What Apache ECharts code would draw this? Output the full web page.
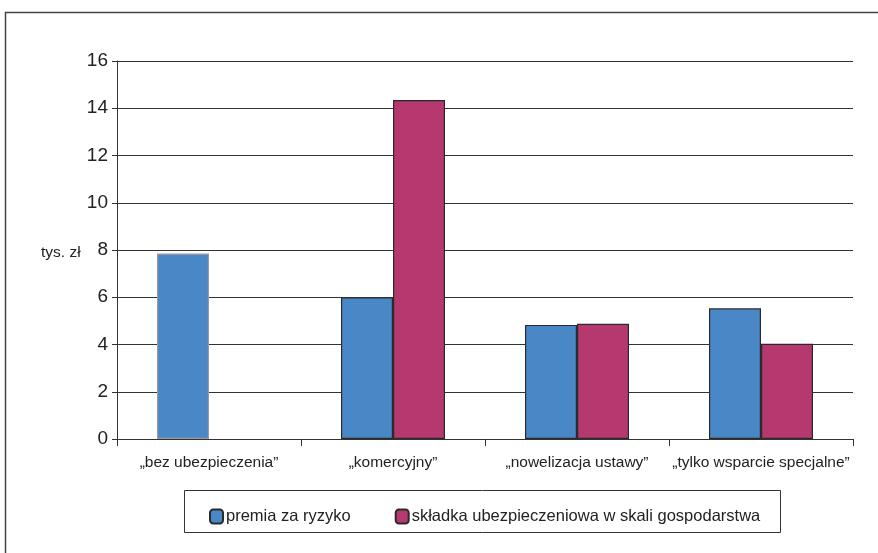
<!DOCTYPE html>
<html>
<head>
<meta charset="utf-8">
<script src="https://cdn.jsdelivr.net/npm/echarts@6/dist/echarts.min.js"></script>
<style>
  html, body { margin: 0; padding: 0; background: #fff; }
  #chart { width: 878px; height: 553px; }
</style>
</head>
<body>
<div id="chart"></div>
<script>
// Scenario categories along the x axis
const categories = ['„bez ubezpieczenia”', '„komercyjny”', '„nowelizacja ustawy”', '„tylko wsparcie specjalne”'];
// Values in thousands of złoty
const riskPremium = [7.85, 6.0, 4.83, 5.53];
const farmPremium = [null, 14.35, 4.88, 4.03];
const seriesNames = ['premia za ryzyko', 'składka ubezpieczeniowa w skali gospodarstwa'];
const yTicks = [0, 2, 4, 6, 8, 10, 12, 14, 16];
const unitLabel = 'tys. zł';

const FONT = '"Liberation Sans", Arial, sans-serif';
const BLUE = '#4a87c6';
const RED = '#b5386f';

const chart = echarts.init(document.getElementById('chart'), null, { renderer: 'canvas' });

const blueData = riskPremium.map((v, i) => i === 0
  ? { value: v, itemStyle: { borderColor: '#9a9a9a' } }
  : v);

chart.setOption({
  animation: false,
  grid: { left: 117, right: 25, top: 61, bottom: 114 },
  xAxis: {
    type: 'category',
    data: categories,
    axisLine: { lineStyle: { color: '#333', width: 1 } },
    axisTick: { show: true, interval: 0, length: 7, lineStyle: { color: '#333' } },
    axisLabel: { interval: 0, color: '#222', fontFamily: FONT, fontSize: 15.5, margin: 16 }
  },
  yAxis: {
    type: 'value',
    min: yTicks[0],
    max: yTicks[yTicks.length - 1],
    interval: 2,
    axisLine: { show: true, lineStyle: { color: '#333', width: 1 } },
    axisTick: { show: true, length: 5, lineStyle: { color: '#333' } },
    axisLabel: { color: '#222', fontFamily: FONT, fontSize: 19, margin: 9 },
    splitLine: { lineStyle: { color: '#333', width: 1 } }
  },
  legend: {
    left: 204,
    top: 503,
    itemGap: 44,
    itemWidth: 13,
    itemHeight: 14,
    icon: 'roundRect',
    textStyle: { color: '#222', fontFamily: FONT, fontSize: 16.5, padding: [0, 0, 0, -2] },
    data: seriesNames
  },
  graphic: [
    {
      type: 'rect',
      shape: { x: 5.5, y: 12.5, width: 900, height: 600 },
      style: { fill: 'none', stroke: '#444', lineWidth: 1.5 },
      silent: true, z: -1
    },
    {
      type: 'rect',
      shape: { x: 184.5, y: 490.5, width: 596, height: 42 },
      style: { fill: 'none', stroke: '#333', lineWidth: 1 },
      silent: true
    },
    {
      type: 'text',
      left: 41,
      top: 245,
      style: { text: unitLabel, fontFamily: FONT, fontSize: 15.5, fill: '#222' }
    }
  ],
  series: [
    {
      name: seriesNames[0],
      type: 'bar',
      data: blueData,
      barWidth: 52,
      barGap: '0%',
      itemStyle: { color: BLUE, borderColor: '#2a2a2a', borderWidth: 1.2 }
    },
    {
      name: seriesNames[1],
      type: 'bar',
      data: farmPremium,
      barWidth: 52,
      barGap: '0%',
      itemStyle: { color: RED, borderColor: '#2a2a2a', borderWidth: 1.2 }
    }
  ]
});
</script>
</body>
</html>
